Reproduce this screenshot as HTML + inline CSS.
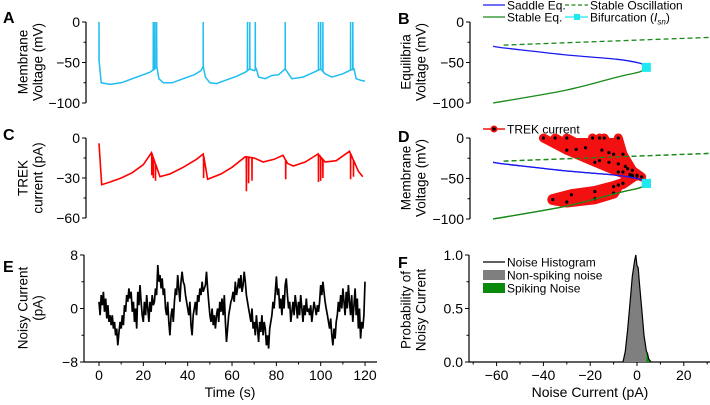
<!DOCTYPE html>
<html><head><meta charset="utf-8"><style>
body{margin:0;background:#fff}
svg{font-family:"Liberation Sans",Arial,sans-serif}
</style></head><body>
<svg id="fig" width="710" height="400" viewBox="0 0 710 400" xmlns="http://www.w3.org/2000/svg"></svg>
<script>
// ---- Panel A data ----
const aTimes=[0,1,5,10,15,20,23,25,26,27,29,33,38,43,46,47,48,50,53,57,62,66,68,70,71,72,75,78,81,84,85,87,92,97,100,102,105,110,113,115,116,118,120];
const aVolts=[-48,-75,-77,-75,-70,-65,-62,-58,-55,-70,-75,-75,-70,-65,-60,-55,-68,-75,-76,-72,-67,-62,-58,-60,-58,-68,-70,-66,-65,-58,-62,-70,-68,-62,-58,-64,-68,-64,-60,-58,-70,-72,-73];
const aSpikes=[0,24.5,25.2,26,47,67,68,70.5,84,99,100,101,113.5,114.5];
// ---- Panel C data ----
const cTimes=[0,1.2,5,10,15,20,23.7,27.5,32,38,44,47,49,55,60,66,70,74,79,83,85,87.6,93,98.8,102,107,113,117,119];
const cCurr=[-4,-35,-33,-30,-26,-20,-11,-29,-27,-22,-16,-12,-31,-27,-22,-14,-15,-18,-16,-13,-19,-21,-18,-12,-18,-17,-10,-25,-29];
const cDipTimes=[23.8,24.5,25.5,47.2,66.5,67.5,69,84.2,99,100,101,113.5,114.8];
const cDipVals=[-28,-30,-32,-30,-40,-34,-32,-31,-33,-32,-30,-31,-29];
// ---- Panel E data (0.5 s steps) ----
const eNoise=[1,-1,2,0.5,2.5,-0.5,1.5,-1.5,0.5,-2,-1,-2.5,-1,-3,-2,-4,-3,-5.5,-3.5,-2,-3,-1,-2.5,0.5,-0.5,2,1,3,1.5,2.5,-0.5,1,-2,0,-3,2.5,0.5,3.5,1,-1,-2,1,-1,2,0,-2,1,-0.5,2,0.5,1,3,2,6.5,4,5,3,4.5,2,3,0,-1,1,-2,-4,-1,0,-2,1,3,2,5,3,1,4,5.5,4,3.5,2,1,0,-1,1,-2.5,-4,-1,0,1,-1,2,1,3,2,4,2.5,3,3.5,5.5,3,1,-1,-2,0,-2.5,-1,-3,-1,0,-2,1,-0.5,1.5,-1,2,-2,-5,-3,-1,0,1,1.5,2.5,1,4,2,3,4.5,3,5,2.5,3.5,5.5,4,2,1,0,-1,-2,0,-3,-2,-4,-1,-3,-5,-2,-3.5,-1,-4,-2,-3,-5.5,-4,-6,-3,-2,-1,1,0,2.5,4.8,2,3,0,1.5,-1,2,0,3.5,4.5,2,0,1,-2,-0.5,1,-1,2,0.5,-1.5,1,-1,2,0,-2,0.5,-1,1.5,-0.5,0,-1,0.5,-2,-0.5,1,0,-1,0.5,-0.5,1,3.5,2,4,2.5,1,0,-1,-2,-3,-1.5,-4,-5.5,-3,-4.5,-2,-1,1,-0.5,2,0,3,1,-1,2.5,0,3.5,1,-1,2,-2,0.5,3,-1,1.5,-3,0,-4.5,-2,-3,-1,4];
// ---- Panel B/D bifurcation data ----
const saddleI=[-61.5,-59.4,-54,-30,-8.5,1.3,3.8];
const saddleV=[-30,-31,-33,-40.7,-46,-51,-56];
const stableI=[3.8,1.3,-8.5,-30,-61.5];
const stableV=[-56,-61.4,-68,-84,-100];
const oscI=[-57,31];
const oscV=[-28.5,-19];
const bifI=[4];
const bifV=[-56];
// TREK trajectories (I, V)
const trekI=[[-40,-30,-18,-8,-3],[-35,-26,-16,-6],[-30,-22,-12,-3],[-19,-15,-8,-2],[-16,-12,-5,0],[-14,-10,-4,0],[-8,-6,-2,2],[-2,-6,-10,-18,-28,-36,-30,-18,-10,-8]];
const trekV=[[0,-15,-30,-42,-47],[0,-14,-28,-42],[0,-12,-30,-45],[0,-15,-32,-46],[0,-18,-35,-47],[0,-20,-38,-46],[0,-20,-40,-48],[-48,-56,-60,-66,-70,-76,-79,-75,-68,-58]];
// ---- Panel F histogram ----
const histX=[-6,-5,-4,-3,-2,-1,-0.5,0,0.5,1,2,3,4,4.5,5,6];
const histP=[0,0.1,0.3,0.55,0.8,0.95,1.0,0.9,0.88,0.75,0.5,0.25,0.1,0.08,0.03,0];
const spikeThresh=4;
const fXTicks=[-60,-40,-20,0,20];
const tTicks=[0,20,40,60,80,100,120];

const NS="http://www.w3.org/2000/svg";
const svg=document.getElementById('fig');
function mk(tag,attrs,parent){const e=document.createElementNS(NS,tag);for(const k in attrs)e.setAttribute(k,attrs[k]);(parent||svg).appendChild(e);return e;}
function txt(x,y,s,attrs,parent){const e=mk('text',Object.assign({x:x,y:y},attrs||{}),parent);e.textContent=s;return e;}

const xT=t=>99+t*2.217;
const yA=v=>22-v*0.81;
const yC=v=>138-v*(80/60);
const yE=v=>308.5-v*6.69;
const xI=i=>637+i*2.34;
const yB=v=>22-v*0.81;
const yD=v=>138-v*0.81;
const yF=p=>362-p*107;

function yAxis(name,x,y0,y1,ticks,minors,fy,labels){
  const g=mk('g',{});
  
  
  mk('line',{x1:x,y1:y0,x2:x,y2:y1,stroke:'#000','stroke-width':1.2},g);
  ticks.forEach((t,i)=>{const y=fy(t);mk('line',{x1:x-4,y1:y,x2:x,y2:y,stroke:'#000'},g);
    const s=labels?labels[i]:(t<0?'\u2212'+(-t):String(t));txt(x-6,y+5,s,{'text-anchor':'end','font-size':14},g);});
  minors.forEach(t=>{const y=fy(t);mk('line',{x1:x-2.5,y1:y,x2:x,y2:y,stroke:'#000'},g);});
}
function title(x,y,lines,name){
  const g=mk('g',{transform:`translate(${x},${y}) rotate(-90)`});
  
  
  lines.forEach((l,i)=>txt(0,(i-(lines.length-1)/2)*15+5,l,{'text-anchor':'middle','font-size':13.5},g));
}
function letter(x,y,s){const e=txt(x,y,s,{'font-size':16,'font-weight':'bold'});
  
  }

// ---- Panel A ----
letter(3,23,'A');
title(30,62,['Membrane','Voltage (mV)'],'y-axis-title-a');
yAxis('y-axis-a',86,22,103,[0,-50,-100],[-25,-75],yA);
(function(){
  const pts=[];aTimes.forEach((t,i)=>pts.push([t,aVolts[i]]));
  aSpikes.forEach(t=>{let k=0;while(k<aTimes.length-1&&aTimes[k+1]<t)k++;
    const f=(t-aTimes[k])/(aTimes[k+1]-aTimes[k]||1);const v=aVolts[k]+f*(aVolts[k+1]-aVolts[k]);
    pts.push([t-0.05,v],[t,0],[t+0.05,v]);});
  pts.sort((a,b)=>a[0]-b[0]);
  const d=pts.map((p,i)=>(i?'L':'M')+xT(p[0]).toFixed(1)+','+yA(p[1]).toFixed(1)).join('');
  const e=mk('path',{d:d,fill:'none',stroke:'#1fbdf0','stroke-width':1.5});
  
  
})();

// ---- Panel C ----
letter(3,140,'C');
title(30,178,['TREK','current (pA)'],'y-axis-title-c');
yAxis('y-axis-c',86,138,218,[0,-30,-60],[-15,-45],yC);
(function(){
  const pts=[];cTimes.forEach((t,i)=>pts.push([t,cCurr[i]]));
  cDipTimes.forEach((t,j)=>{let k=0;while(k<cTimes.length-1&&cTimes[k+1]<t)k++;
    const f=(t-cTimes[k])/(cTimes[k+1]-cTimes[k]||1);const v=cCurr[k]+f*(cCurr[k+1]-cCurr[k]);
    pts.push([t-0.05,v],[t,cDipVals[j]],[t+0.05,v]);});
  pts.sort((a,b)=>a[0]-b[0]);
  const d=pts.map((p,i)=>(i?'L':'M')+xT(p[0]).toFixed(1)+','+yC(p[1]).toFixed(1)).join('');
  const e=mk('path',{d:d,fill:'none',stroke:'#f00','stroke-width':1.6});
  
  
})();

// ---- Panel E ----
letter(3,272,'E');
title(30,308,['Noisy Current','(pA)'],'y-axis-title-e');
yAxis('y-axis-e',84,255,362,[8,0,-8],[4,-4],yE);
(function(){
  const g=mk('g',{});
  mk('line',{x1:84,y1:362,x2:377,y2:362,stroke:'#000','stroke-width':1.2},g);
  for(let t=0;t<=120;t+=10){mk('line',{x1:xT(t),y1:362,x2:xT(t),y2:tTicks.includes(t)?366:364.5,stroke:'#000'},g);}
  tTicks.forEach(t=>txt(xT(t),380,String(t),{'text-anchor':'middle','font-size':14},g));
  txt(230,397,'Time (s)',{'text-anchor':'middle','font-size':14},g);
  const d=eNoise.map((v,i)=>(i?'L':'M')+xT(i*0.5).toFixed(1)+','+yE(v).toFixed(1)).join('');
  const e=mk('path',{d:d,fill:'none',stroke:'#000','stroke-width':1.7});
  
  
})();

function smoothPath(I,V,fy){
  const P=I.map((x,i)=>[xI(x),fy(V[i])]);
  let d='M'+P[0][0].toFixed(1)+','+P[0][1].toFixed(1);
  for(let i=0;i<P.length-1;i++){
    const p0=P[Math.max(0,i-1)],p1=P[i],p2=P[i+1],p3=P[Math.min(P.length-1,i+2)];
    const c1=[p1[0]+(p2[0]-p0[0])/6,p1[1]+(p2[1]-p0[1])/6],c2=[p2[0]-(p3[0]-p1[0])/6,p2[1]-(p3[1]-p1[1])/6];
    d+='C'+c1.map(v=>v.toFixed(1)).join(',')+' '+c2.map(v=>v.toFixed(1)).join(',')+' '+p2[0].toFixed(1)+','+p2[1].toFixed(1);
  }
  return d;
}
function bifCurves(fy,prefix){
  let e=mk('path',{d:smoothPath(oscI,oscV,fy),fill:'none',stroke:'#1a8a1a','stroke-width':1.3,'stroke-dasharray':'5,3'});
  
  e=mk('path',{d:smoothPath(saddleI,saddleV,fy),fill:'none',stroke:'#1a1aee','stroke-width':1.3});
  
  e=mk('path',{d:smoothPath(stableI,stableV,fy),fill:'none',stroke:'#1a8a1a','stroke-width':1.3});
  
  e=mk('rect',{x:xI(bifI[0])-4.5,y:fy(bifV[0])-4.5,width:9,height:9,fill:'#1ee8f0'});
  
}

// ---- Panel B ----
letter(398,24,'B');
title(413,62,['Equilibria','Voltage (mV)'],'y-axis-title-b');
yAxis('y-axis-b',470,22,103,[0,-50,-100],[-25,-75],yB);
bifCurves(yB,'b-');
(function(){
  const g=mk('g',{});
  mk('line',{x1:483,y1:5,x2:505,y2:5,stroke:'#1a1aee','stroke-width':1.3},g);txt(507,9.5,'Saddle Eq.',{'font-size':12},g);
  mk('line',{x1:565,y1:5,x2:588,y2:5,stroke:'#1a8a1a','stroke-width':1.3,'stroke-dasharray':'4,2.5'},g);txt(590,9.5,'Stable Oscillation',{'font-size':12},g);
  mk('line',{x1:483,y1:17,x2:505,y2:17,stroke:'#1a8a1a','stroke-width':1.3},g);txt(507,21.5,'Stable Eq.',{'font-size':12},g);
  mk('line',{x1:565,y1:17,x2:588,y2:17,stroke:'#1ee8f0','stroke-width':1.3},g);mk('rect',{x:574,y:14,width:6,height:6,fill:'#1ee8f0'},g);
  const t=txt(590,21.5,'Bifurcation (',{'font-size':12},g);
  const ts=mk('tspan',{'font-style':'italic'},t);ts.textContent='I';
  const sub=mk('tspan',{'font-style':'italic','font-size':8,dy:3},t);sub.textContent='sn';
  const cl=mk('tspan',{dy:-3},t);cl.textContent=')';
})();

// ---- Panel D ----
letter(398,142,'D');
title(413,178,['Membrane','Voltage (mV)'],'y-axis-title-d');
yAxis('y-axis-d',470,138,219,[0,-50,-100],[-25,-75],yD);
bifCurves(yD,'d-');
(function(){
  const g=mk('g',{});
  const wI=[trekI[0][0],trekI[6][0],trekI[6][3],trekI[0][4]];
  const wV=[trekV[0][0],trekV[6][0],trekV[6][3],trekV[0][4]];
  mk('path',{d:wI.map((x,i)=>(i?'L':'M')+xI(x)+','+yD(wV[i])).join('')+'Z',fill:'#f21010'},g);
  trekI.forEach((arr,j)=>{
    const d=arr.map((x,i)=>(i?'L':'M')+xI(x).toFixed(1)+','+yD(trekV[j][i]).toFixed(1)).join('');
    mk('path',{d:d,fill:'none',stroke:'#f21010','stroke-width':j===7?11:9,'stroke-linecap':'round','stroke-linejoin':'round'},g);
  });
  trekI.forEach((arr,j)=>arr.forEach((x,i)=>mk('circle',{cx:xI(x),cy:yD(trekV[j][i]),r:1.6,fill:'#000'},g)));
  bifCurves(yD,'d-top-');
  const lg=mk('g',{});
  mk('line',{x1:483,y1:129,x2:505,y2:129,stroke:'#f21010','stroke-width':1.5},lg);
  mk('circle',{cx:494,cy:129,r:3.5,fill:'#f21010'},lg);mk('circle',{cx:494,cy:129,r:1.8,fill:'#000'},lg);
  txt(507,133.5,'TREK current',{'font-size':12},lg);
})();

// ---- Panel F ----
letter(398,268,'F');
title(413,310,['Probability of','Noisy Current'],'y-axis-title-f');
yAxis('y-axis-f',469,255,362,[1.0,0.5,0.0],[0.25,0.75],yF,['1.0','0.5','0.0']);
(function(){
  const g=mk('g',{});
  mk('line',{x1:469,y1:362,x2:710,y2:362,stroke:'#000','stroke-width':1.2},g);
  for(let t=-70;t<=30;t+=10){mk('line',{x1:xI(t),y1:362,x2:xI(t),y2:fXTicks.includes(t)?366:364.5,stroke:'#000'},g);}
  fXTicks.forEach(t=>txt(xI(t),380,t<0?'\u2212'+(-t):String(t),{'text-anchor':'middle','font-size':14},g));
  txt(590,397,'Noise Current (pA)',{'text-anchor':'middle','font-size':14},g);
  const area=(xs,ps)=>'M'+xI(xs[0])+','+yF(0)+xs.map((x,i)=>'L'+xI(x).toFixed(1)+','+yF(ps[i]).toFixed(1)).join('')+'L'+xI(xs[xs.length-1])+','+yF(0)+'Z';
  const nx=[],np=[],sx=[],sp=[];
  histX.forEach((x,i)=>{if(x<=spikeThresh){nx.push(x);np.push(histP[i]);}if(x>=spikeThresh){sx.push(x);sp.push(histP[i]);}});
  let e=mk('path',{d:area(nx,np),fill:'#7f7f7f'});
  e=mk('path',{d:area(sx,sp),fill:'#0a8a0a'});
  e=mk('path',{d:histX.map((x,i)=>(i?'L':'M')+xI(x).toFixed(1)+','+yF(histP[i]).toFixed(1)).join(''),fill:'none',stroke:'#000','stroke-width':1.2});
  
  const lg=mk('g',{});
  mk('line',{x1:483,y1:262,x2:505,y2:262,stroke:'#000','stroke-width':1.3},lg);txt(507,266.5,'Noise Histogram',{'font-size':12},lg);
  mk('rect',{x:483,y:270,width:22,height:10,fill:'#7f7f7f'},lg);txt(507,279.5,'Non-spiking noise',{'font-size':12},lg);
  mk('rect',{x:483,y:283,width:22,height:10,fill:'#0a8a0a'},lg);txt(507,292.5,'Spiking Noise',{'font-size':12},lg);
})();
</script>
</body></html>
